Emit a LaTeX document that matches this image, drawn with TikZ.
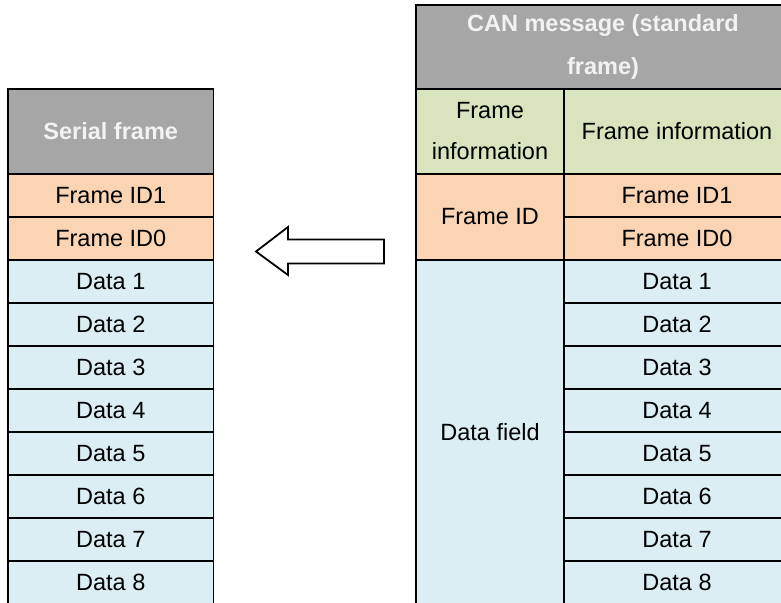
\documentclass[tikz,border=0pt]{standalone}
\usepackage{fontspec}
\setmainfont{Liberation Sans}
\definecolor{hdrfill}{HTML}{A6A6A6}
\definecolor{hdrtext}{HTML}{F2F2F2}
\definecolor{idfill}{HTML}{FBD4B4}
\definecolor{datafill}{HTML}{DAEEF3}
\definecolor{infofill}{HTML}{D7E4BD}
\tikzset{
  border/.style={draw=black, line width=1.8pt, line join=miter},
  cell/.style n args={3}{rectangle, anchor=north west, inner sep=0pt, outer sep=0pt,
    fill=#1, minimum width=#2, minimum height=#3, align=center,
    font=\fontsize{23.5}{41}\selectfont},
  headtext/.style={text=hdrtext, font=\fontsize{23.5}{42.5}\selectfont\bfseries},
}
\begin{document}
\begin{tikzpicture}[x=1pt, y=-1pt]
\useasboundingbox (0,0) rectangle (781,602);
\clip (0,0) rectangle (781,602);

% serial frame table
\node[cell={hdrfill}{205.5pt}{85pt}, headtext] (sHead) at (8,89) {Serial frame};
\node[cell={idfill}{205.5pt}{43pt}] (sId1) at (8,174) {Frame ID1};
\node[cell={idfill}{205.5pt}{43pt}] (sId0) at (8,217) {Frame ID0};
\foreach \i in {1,...,8}
  \node[cell={datafill}{205.5pt}{43pt}] (sD\i) at (8,{260+43*(\i-1)}) {Data \i};

% CAN message table
\node[cell={hdrfill}{374pt}{84pt}, headtext] (cHead) at (416,5) {CAN message (standard\\frame)};
\node[cell={infofill}{148pt}{85pt}] (cInfoL) at (416,89) {Frame\\information};
\node[cell={infofill}{226pt}{85pt}] (cInfoR) at (564,89) {Frame information};
\node[cell={idfill}{148pt}{86pt}] (cId) at (416,174) {Frame ID};
\node[cell={idfill}{226pt}{43pt}] (cId1) at (564,174) {Frame ID1};
\node[cell={idfill}{226pt}{43pt}] (cId0) at (564,217) {Frame ID0};
\node[cell={datafill}{148pt}{344pt}] (cField) at (416,260) {Data field};
\foreach \i in {1,...,8}
  \node[cell={datafill}{226pt}{43pt}] (cD\i) at (564,{260+43*(\i-1)}) {Data \i};

% cell outlines, open at the bottom so the last row runs off the page
\foreach \n in {sHead,sId1,sId0,sD1,sD2,sD3,sD4,sD5,sD6,sD7,sD8,
                cHead,cInfoL,cInfoR,cId,cId1,cId0,cField,
                cD1,cD2,cD3,cD4,cD5,cD6,cD7,cD8}
  \draw[border] (\n.south west) -- (\n.north west) -- (\n.north east) -- (\n.south east);

% block arrow from the CAN table to the serial frame
\coordinate (tip) at (256,251.5);
\coordinate (tail) at (384,251.5);
\draw[border, fill=white]
  (tip) -- (288,227) -- (288,239.5) -- (tail |- 0,239.5)
  -- (tail |- 0,263.5) -- (288,263.5) -- (288,275) -- cycle;
\end{tikzpicture}
\end{document}
